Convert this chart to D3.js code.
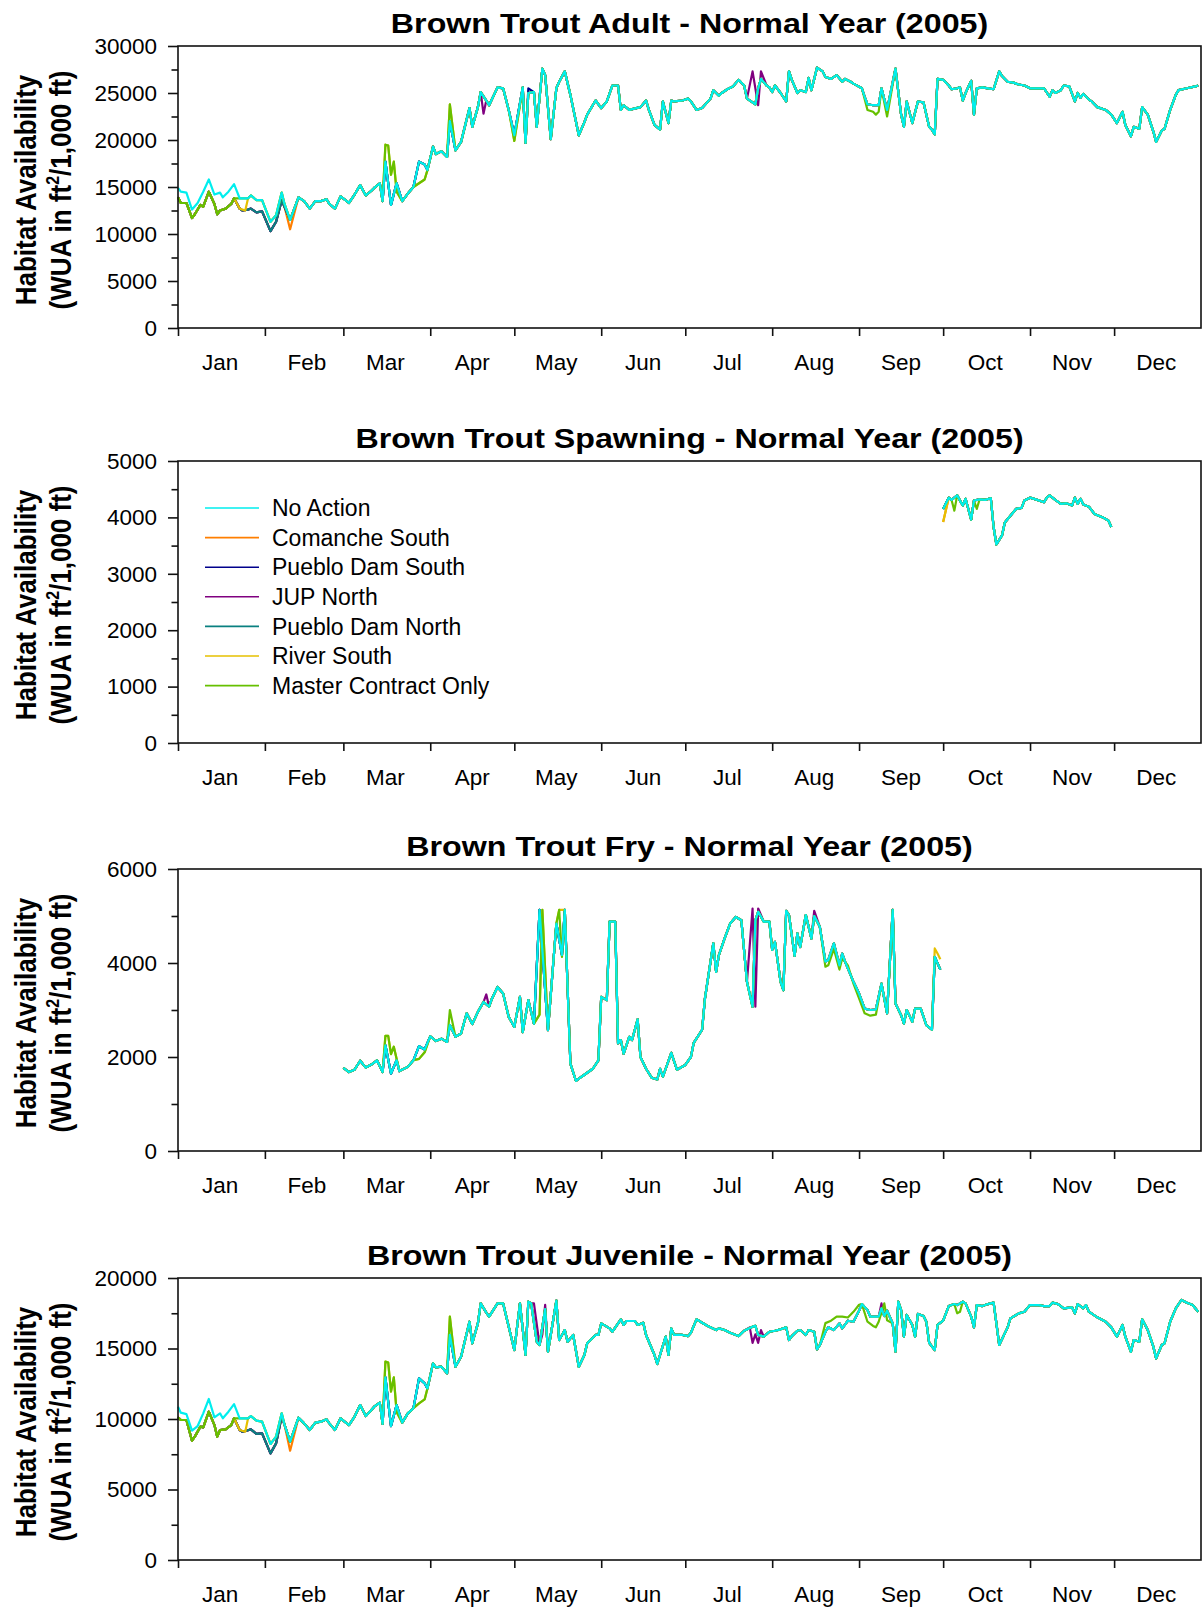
<!DOCTYPE html>
<html><head><meta charset="utf-8">
<script src="https://cdn.jsdelivr.net/npm/d3@7"></script>
<style>
body{margin:0;background:#fff}
svg{display:block}
text{font-family:"Liberation Sans",Arial,Helvetica,sans-serif;fill:#000}
</style>
</head><body>
<svg id="chart" width="1204" height="1608"></svg>
<script>
// ---------------- DATA ----------------
const monthLabels = ["Jan","Feb","Mar","Apr","May","Jun","Jul","Aug","Sep","Oct","Nov","Dec"];
const seriesNames = ["No Action","Comanche South","Pueblo Dam South","JUP North","Pueblo Dam North","River South","Master Contract Only"];
const panelTitles = ["Brown Trout Adult - Normal Year (2005)","Brown Trout Spawning - Normal Year (2005)","Brown Trout Fry - Normal Year (2005)","Brown Trout Juvenile - Normal Year (2005)"];
const yMaxes = [30000, 5000, 6000, 20000];
const yMajorSteps = [5000, 1000, 2000, 5000];

// [day of year (0 = Jan 1), WUA]; No Action line
const adultNoAction = [[0,14900],[1,14500],[3,14400],[5,12600],[7,13300],[9,14500],[11,15800],[13,14200],[15,14400],[16,13900],[18,14500],[20,15300],[22,13800],[25,13800],[26,14100],[28,13600],[30,13600],[33,11300],[35,12000],[37,14400],[38,13200],[40,11500],[43,13900],[45,13500],[47,12700],[49,13500],[51,13500],[53,13700],[54,13200],[56,12700],[58,14000],[61,13300],[63,14200],[65,15200],[67,14100],[69,14600],[70,14900],[72,15400],[73,13500],[74,17700],[76,13100],[78,15400],[80,13500],[82,14300],[84,15000],[86,17700],[88,17400],[89,16800],[91,19300],[92,18500],[94,18800],[96,18200],[97,22000],[99,18900],[101,19800],[104,23400],[105,21400],[107,23500],[108,25100],[110,24200],[111,23700],[114,25600],[116,25500],[118,23200],[120,20500],[123,25600],[124,19700],[125,25000],[127,25100],[128,21400],[130,27600],[131,26900],[133,20100],[135,25500],[136,26200],[138,27300],[140,24800],[143,20500],[145,21900],[146,22700],[149,24200],[151,23400],[153,24100],[155,25800],[157,25800],[158,23200],[159,23700],[161,23200],[165,23500],[167,24200],[168,23200],[170,21600],[172,21100],[173,24100],[175,21800],[176,24200],[177,24100],[180,24200],[182,24400],[183,24100],[185,23200],[187,23400],[190,24400],[191,25300],[193,24700],[194,25000],[196,25400],[198,25700],[200,26400],[202,25800],[203,24400],[206,23800],[207,25500],[208,26500],[210,25800],[211,25600],[212,25100],[213,25800],[215,25000],[217,24100],[218,27300],[219,26400],[221,25000],[222,25300],[224,25100],[225,26600],[226,25300],[228,27700],[230,27300],[231,26700],[233,26500],[235,26900],[237,26200],[238,26500],[240,26200],[241,26000],[244,25500],[245,24600],[246,23800],[248,23700],[250,23700],[251,25500],[253,23200],[256,27600],[258,22700],[259,21400],[260,24100],[262,21800],[264,24100],[266,24000],[268,21400],[269,21100],[270,20600],[271,26500],[273,26400],[275,25800],[276,25400],[278,25500],[279,25600],[280,24200],[281,25000],[283,26300],[284,22700],[285,25500],[287,25600],[289,25500],[291,25400],[293,27300],[294,26800],[296,26200],[298,26100],[300,25900],[302,25800],[304,25500],[307,25500],[309,25500],[311,24600],[312,25300],[313,25000],[315,25300],[316,25800],[318,25700],[320,24100],[321,25000],[322,24500],[323,24900],[325,24300],[326,24100],[328,23500],[331,23200],[333,22700],[335,21800],[337,23000],[338,21600],[340,20400],[341,21400],[343,21200],[344,23500],[346,22700],[348,20900],[349,19800],[351,21000],[352,21200],[354,23200],[356,24800],[357,25300],[360,25500],[363,25700],[364,25800]];

// stretches where the other alternatives depart from No Action (adult)
const adultJanLow = [[0,13900],[1,13300],[3,13300],[5,11700],[6,12100],[8,13100],[9,12900],[11,14500],[13,13200],[14,12100],[15,12500],[17,12700],[19,13200],[20,13800]];
const adultRiverJan = [[22,12700],[24,12500],[25,13800]];
const adultNorthFeb = [[22,12700],[23,12500],[25,12600],[26,12700],[28,12300],[30,12400],[33,10300],[35,11300],[37,13600],[38,12900],[40,11500]];
const adultComancheFeb = [[22,12700],[23,12500],[25,12600],[26,12700],[28,12300],[30,12400],[33,10300],[35,11300],[37,13600],[38,12900],[40,10500],[43,13900]];
const adultMarSpike = [[73,13500],[74,19500],[75,19400],[76,16300],[77,17700],[78,14500],[80,13500]];
const adultMarLate = [[84,15000],[86,15400],[88,15800],[89,16800]];
const adultAprSpike = [[96,18200],[97,23800],[99,18900]];
const adultAprLate = [[118,23200],[120,19900],[123,25600]];
const adultJupApr = [[108,25100],[109,22800],[110,24200]];
const adultPdsApr = [[124,19700],[125,25500],[127,25100]];
const adultJupJul = [[203,24400],[205,27300],[207,23700],[208,27300],[210,25800]];
const adultMcSep = [[244,25500],[246,23200],[248,23000],[249,22700],[250,23000],[251,25500],[253,22500],[256,27600]];

const juvenileNoAction = [[0,10870],[1,10450],[3,10350],[5,9170],[7,9500],[9,10400],[11,11420],[13,10120],[15,10400],[16,10050],[18,10520],[20,11060],[22,10050],[25,10050],[26,10210],[28,9880],[30,9810],[33,8230],[35,8750],[37,10400],[38,9600],[40,8390],[43,10090],[45,9690],[47,9220],[49,9740],[51,9810],[53,9980],[54,9690],[56,9220],[58,10050],[61,9570],[63,10170],[65,10990],[67,10210],[69,10640],[70,10870],[72,11160],[73,9650],[74,12950],[76,9500],[78,10990],[80,9740],[82,10400],[84,10760],[86,12880],[88,12530],[89,12170],[91,13950],[92,13660],[94,13710],[96,13240],[97,15960],[99,13710],[101,14420],[104,16900],[105,15370],[107,16780],[108,18200],[110,17540],[111,17260],[114,18200],[116,18200],[118,16550],[120,14890],[122,18200],[124,14540],[125,18320],[126,18200],[128,15480],[129,15250],[131,17800],[132,14770],[135,18390],[136,15600],[138,16310],[139,15480],[141,15960],[143,13710],[145,14540],[146,15370],[149,15960],[150,15960],[151,16780],[154,16430],[155,16190],[158,17070],[159,16670],[160,16950],[163,16950],[164,16670],[166,16830],[167,15960],[170,14540],[171,13900],[174,15840],[175,14540],[176,16430],[177,15960],[180,15960],[182,15880],[183,16120],[185,17070],[187,16830],[189,16600],[192,16310],[193,16430],[195,16310],[197,16120],[200,15880],[202,16260],[205,16550],[206,16600],[207,15960],[209,15840],[211,16190],[213,16260],[215,16360],[217,16500],[218,15600],[219,15880],[221,16260],[222,16310],[224,15960],[225,16310],[227,16190],[228,14940],[229,15250],[231,16190],[232,16500],[234,16310],[236,16780],[237,16430],[239,16970],[241,16900],[243,17680],[244,18150],[246,17730],[247,17260],[250,17260],[251,17850],[252,17300],[253,17680],[255,16780],[256,14770],[257,18320],[258,17730],[259,15840],[260,17380],[262,16670],[263,15840],[264,17450],[266,17300],[267,16900],[268,15410],[270,14890],[271,16670],[273,16970],[275,18010],[277,18150],[278,18080],[280,18320],[281,18200],[283,17260],[284,16500],[285,18080],[287,18010],[289,18150],[291,18250],[292,16780],[293,15250],[296,16500],[297,17140],[300,17490],[302,17610],[304,18080],[307,18080],[309,18010],[311,18010],[312,18250],[314,18150],[316,17850],[319,17920],[320,17490],[321,18150],[323,17850],[324,18080],[325,17610],[328,17210],[331,16900],[333,16500],[335,15840],[337,16670],[338,15840],[340,14770],[341,15600],[343,15480],[344,17070],[346,16310],[348,15130],[349,14300],[351,15250],[352,15370],[354,16900],[356,17850],[358,18440],[360,18250],[362,18080],[364,17610]];

const juvenileJanLow = [[0,10120],[1,9930],[3,9930],[5,8460],[6,8750],[8,9460],[9,9410],[11,10520],[13,9570],[14,8750],[15,9220],[17,9270],[19,9570],[20,10050]];
const juvenileRiverJan = [[22,9220],[24,9100],[25,10050]];
const juvenileNorthFeb = [[22,9220],[23,9100],[25,9200],[26,9270],[28,8940],[30,8980],[33,7560],[35,8270],[37,10200],[38,9600],[40,8390]];
const juvenileComancheFeb = [[22,9220],[23,9100],[25,9200],[26,9270],[28,8940],[30,8980],[33,7560],[35,8270],[37,10200],[38,9600],[40,7750],[43,10090]];
const juvenileMarSpike = [[73,9650],[74,14070],[75,14000],[76,11940],[77,12950],[78,10500],[80,9740]];
const juvenileMarLate = [[84,10760],[86,11110],[88,11390],[89,12170]];
const juvenileAprSpike = [[96,13240],[97,17260],[99,13710]];
const juvenileJupApr = [[126,18200],[127,18200],[129,15250],[130,16000],[131,18100],[132,14770]];
const juvenileJupJul = [[204,16500],[205,15400],[206,16000],[207,15400],[208,16300],[209,15840]];
const juvenileMcAug = [[229,15250],[231,16800],[233,16970],[235,17260],[237,17260],[239,17200],[241,17600],[243,18100],[244,18150],[246,16900],[248,16600],[249,16500],[250,16900],[252,18200],[253,17000],[255,16780]];
const juvenileJupSep = [[250,17260],[251,18200],[252,17300]];
const juvenileMcOct = [[277,18150],[278,17500],[279,17600],[280,18320]];

const fryNoAction = [[59,1770],[61,1680],[63,1730],[65,1920],[67,1775],[69,1840],[71,1930],[73,1680],[74,2250],[76,1650],[78,1930],[79,1700],[82,1790],[84,1930],[86,2230],[88,2160],[90,2440],[92,2340],[94,2390],[96,2320],[97,2680],[99,2430],[101,2500],[103,2930],[105,2700],[107,2960],[109,3170],[111,3070],[112,3240],[114,3490],[116,3350],[118,2850],[120,2640],[122,3280],[123,2530],[125,3210],[127,2710],[129,5130],[132,2570],[135,4840],[137,4170],[138,5130],[140,1860],[142,1490],[144,1580],[148,1750],[150,1930],[151,3280],[153,3210],[154,4880],[156,4880],[157,2290],[158,2360],[159,2070],[161,2430],[162,2360],[164,2800],[165,2000],[167,1750],[169,1560],[171,1520],[172,1750],[173,1580],[176,2090],[178,1730],[181,1830],[183,2000],[184,2300],[187,2580],[188,3240],[191,4420],[192,3810],[193,4170],[195,4520],[197,4840],[199,4980],[201,4910],[203,3600],[205,3070],[206,4910],[207,5090],[209,4880],[211,4880],[212,4280],[213,4450],[215,3600],[216,3420],[217,5110],[218,5020],[220,4150],[221,4630],[222,4340],[224,5020],[226,4520],[227,5000],[229,4770],[231,4030],[232,4060],[234,4420],[236,3950],[237,4200],[238,4030],[241,3600],[243,3350],[245,3030],[247,3000],[249,3010],[251,3560],[253,2930],[255,5130],[256,3140],[258,2890],[259,2710],[260,3000],[262,2750],[263,3030],[265,3030],[267,2680],[269,2580],[270,4130],[272,3860]];

const fryMarSpike = [[73,1680],[74,2450],[75,2450],[76,2060],[77,2220],[79,1700]];
const fryMarLate = [[84,1930],[86,1960],[88,2100],[90,2440]];
const fryAprSpike = [[96,2320],[97,3000],[99,2430]];
const fryJupApr = [[109,3170],[110,3330],[111,3070]];
const fryMaySpike = [[127,2710],[129,2900],[130,5130],[132,2570]];
const fryMcMay = [[135,4840],[136,5130],[137,4130],[138,5130]];
const fryRiverMay = [[135,4840],[136,5130],[138,5130]];
const fryJupJul = [[203,3600],[205,5160],[206,3070],[207,5160],[209,4880]];
const fryJupAug = [[226,4520],[227,5110],[229,4770]];
const fryMcAug = [[229,4770],[231,3920],[232,3950],[234,4300],[236,3860],[237,4100],[239,3950],[241,3560],[243,3250],[245,2930],[247,2880],[249,2900],[251,3560]];
const fryRiverSep = [[269,2580],[270,4310],[271,4200],[272,4080]];

const spawningNoAction = [[273,4150],[275,4350],[276,4310],[278,4390],[280,4210],[281,4330],[283,3960],[284,4300],[286,4320],[288,4310],[290,4340],[291,3830],[292,3520],[294,3680],[295,3910],[297,4030],[299,4150],[301,4170],[302,4300],[304,4350],[306,4320],[309,4270],[310,4350],[311,4390],[313,4310],[315,4240],[317,4250],[319,4210],[320,4350],[321,4240],[322,4330],[323,4230],[325,4190],[327,4060],[330,4000],[332,3940],[333,3830]];
const spawningStartLow = [[273,3920],[275,4350]];
const spawningMcOct = [[276,4310],[277,4120],[278,4390]];
const spawningMcOct2 = [[284,4300],[285,4150],[286,4320]];

// ---------------- STYLE / LAYOUT ----------------
const seriesColors = {
  "No Action":"#00EEEE","Comanche South":"#FF7F00","Pueblo Dam South":"#00008B",
  "JUP North":"#800080","Pueblo Dam North":"#0A8080","River South":"#E6C000","Master Contract Only":"#66C000"
};
const drawOrder = ["Comanche South","Pueblo Dam South","JUP North","Pueblo Dam North","River South","Master Contract Only","No Action"];

const L = 178, R = 1201, PH = 282;
const panelTops = [46, 461, 869, 1278];

const panelBases = [adultNoAction, spawningNoAction, fryNoAction, juvenileNoAction];
const panelAlts = [
  { // adult
    "Comanche South": [adultJanLow.concat(adultComancheFeb)],
    "Pueblo Dam South": [adultJanLow.concat(adultNorthFeb), adultPdsApr],
    "JUP North": [adultJanLow.concat(adultNorthFeb), adultJupApr, adultJupJul],
    "Pueblo Dam North": [adultJanLow.concat(adultNorthFeb)],
    "River South": [adultJanLow.concat(adultRiverJan), adultMarSpike, adultMarLate, adultAprSpike, adultAprLate],
    "Master Contract Only": [adultJanLow, adultMarSpike, adultMarLate, adultAprSpike, adultAprLate, adultMcSep]
  },
  { // spawning
    "Comanche South": [spawningStartLow],
    "River South": [spawningStartLow],
    "Master Contract Only": [spawningMcOct, spawningMcOct2]
  },
  { // fry
    "JUP North": [fryJupApr, fryJupJul, fryJupAug],
    "River South": [fryMarSpike, fryMarLate, fryMaySpike, fryRiverMay, fryRiverSep],
    "Master Contract Only": [fryMarSpike, fryMarLate, fryAprSpike, fryMaySpike, fryMcMay, fryMcAug]
  },
  { // juvenile
    "Comanche South": [juvenileJanLow.concat(juvenileComancheFeb)],
    "Pueblo Dam South": [juvenileJanLow.concat(juvenileNorthFeb)],
    "JUP North": [juvenileJanLow.concat(juvenileNorthFeb), juvenileJupApr, juvenileJupJul, juvenileJupSep],
    "Pueblo Dam North": [juvenileJanLow.concat(juvenileNorthFeb)],
    "River South": [juvenileJanLow.concat(juvenileRiverJan), juvenileMarSpike, juvenileMarLate, juvenileAprSpike],
    "Master Contract Only": [juvenileJanLow, juvenileMarSpike, juvenileMarLate, juvenileAprSpike, juvenileMcAug, juvenileMcOct]
  }
];

function buildSeries(base, segs) {
  let pts = base.slice();
  (segs || []).forEach(seg => {
    const a = seg[0][0], b = seg[seg.length - 1][0];
    pts = pts.filter(p => p[0] < a || p[0] > b).concat(seg);
  });
  return pts.sort((p, q) => p[0] - q[0]);
}

// ---------------- DRAW ----------------
const svg = d3.select("#chart");
const t0 = Date.UTC(2005, 0, 1);
const dayDate = d => new Date(t0 + d * 86400000);
const x = d3.scaleUtc().domain([new Date(Date.UTC(2005,0,1)), new Date(Date.UTC(2006,0,1))]).range([L, R]);

panelTops.forEach((top, i) => {
  const bottom = top + PH;
  const y = d3.scaleLinear().domain([0, yMaxes[i]]).range([bottom, top]);
  const g = svg.append("g");

  // title
  g.append("text")
    .attr("transform", `translate(${(L + R) / 2},${top - 13}) scale(1.15,1)`)
    .attr("text-anchor", "middle")
    .style("font-size", "28px").style("font-weight", "bold")
    .text(panelTitles[i]);

  // y axis label
  const cy = (top + bottom) / 2 + 3;
  g.append("text")
    .attr("transform", `translate(36,${cy}) rotate(-90) scale(1,1.13)`)
    .attr("text-anchor", "middle")
    .style("font-size", "26px").style("font-weight", "bold")
    .text("Habitat Availability");
  const t2 = g.append("text")
    .attr("transform", `translate(70.5,${cy}) rotate(-90) scale(1,1.13)`)
    .attr("text-anchor", "middle")
    .style("font-size", "26px").style("font-weight", "bold");
  t2.append("tspan").text("(WUA in ft");
  t2.append("tspan").attr("dy", -10).style("font-size", "16px").text("2");
  t2.append("tspan").attr("dy", 10).text("/1,000 ft)");

  // data lines
  const line = d3.line().x(p => x(dayDate(p[0]))).y(p => y(p[1]));
  drawOrder.forEach(name => {
    const pts = name === "No Action" ? panelBases[i] : buildSeries(panelBases[i], panelAlts[i][name]);
    g.append("path").datum(pts)
      .attr("d", line)
      .attr("fill", "none")
      .attr("stroke", seriesColors[name])
      .attr("stroke-width", 2.2)
      .attr("stroke-linejoin", "round");
  });

  // frame
  g.append("rect").attr("x", L).attr("y", top).attr("width", R - L).attr("height", PH)
    .attr("fill", "none").attr("stroke", "#111").attr("stroke-width", 1.6);

  // y axis major
  const step = yMajorSteps[i];
  const yAxis = g.append("g").attr("transform", `translate(${L},0)`)
    .call(d3.axisLeft(y).tickValues(d3.range(0, yMaxes[i] + 1, step)).tickSize(10).tickPadding(11).tickFormat(d3.format("d")));
  yAxis.select(".domain").remove();
  yAxis.selectAll("line").attr("stroke", "#111").attr("stroke-width", 1.6);
  yAxis.selectAll("text").style("font-size", "22.5px").attr("fill", "#000").style("font-family", "'Liberation Sans',Arial,sans-serif");
  // y axis minor
  const yMinor = g.append("g").attr("transform", `translate(${L},0)`)
    .call(d3.axisLeft(y).tickValues(d3.range(step / 2, yMaxes[i], step)).tickSize(6.5).tickFormat(""));
  yMinor.select(".domain").remove();
  yMinor.selectAll("line").attr("stroke", "#111").attr("stroke-width", 1.6);

  // x axis: ticks at month starts, labels mid-month
  const xAxis = g.append("g").attr("transform", `translate(0,${bottom})`)
    .call(d3.axisBottom(x).tickValues(d3.utcMonths(new Date(Date.UTC(2005,0,1)), new Date(Date.UTC(2005,11,2)))).tickSize(8).tickFormat(""));
  xAxis.select(".domain").remove();
  xAxis.selectAll("line").attr("stroke", "#111").attr("stroke-width", 1.6);
  g.selectAll(".mlab").data(monthLabels).enter().append("text")
    .attr("x", (d, m) => x(new Date(Date.UTC(2005, m, 16))))
    .attr("y", bottom + 42)
    .attr("text-anchor", "middle")
    .style("font-size", "22.5px")
    .text(d => d);

  // legend in the spawning panel
  if (i === 1) {
    const lg = g.append("g");
    seriesNames.forEach((name, k) => {
      const ly = top + 47 + k * 29.6;
      lg.append("line").attr("x1", 205).attr("x2", 259).attr("y1", ly).attr("y2", ly)
        .attr("stroke", seriesColors[name]).attr("stroke-width", 1.6);
      lg.append("text").attr("x", 272).attr("y", ly).attr("dy", "0.36em")
        .style("font-size", "23px").text(name);
    });
  }
});
</script>
</body></html>
